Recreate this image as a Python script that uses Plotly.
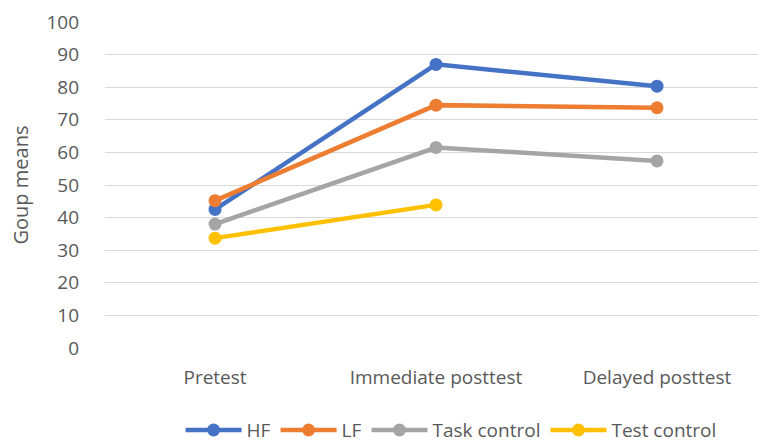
import plotly.graph_objects as go

categories = ["Pretest", "Immediate posttest", "Delayed posttest"]
hf = [42.5, 87.0, 80.3]
lf = [45.2, 74.5, 73.7]
task_control = [38.0, 61.5, 57.4]
test_control = [33.7, 43.9, None]

series = [
    ("HF", hf, "#4472C4"),
    ("LF", lf, "#ED7D31"),
    ("Task control", task_control, "#A5A5A5"),
    ("Test control", test_control, "#FFC000"),
]

FONT = "Open Sans, Roboto, sans-serif"
TXT = "#595959"
FS = 19

fig = go.Figure()
for name, vals, color in series:
    fig.add_trace(go.Scatter(
        x=categories, y=vals, name=name, mode="lines+markers",
        line=dict(color=color, width=4.5),
        marker=dict(color=color, size=13),
        connectgaps=False,
    ))

fig.update_layout(
    width=758, height=446,
    margin=dict(l=105, r=0, t=22, b=98, autoexpand=False),
    paper_bgcolor="white", plot_bgcolor="white",
    font=dict(family=FONT, size=FS, color=TXT),
    showlegend=True,
    legend=dict(orientation="h", x=0.53, xanchor="center", y=-0.252, yanchor="middle",
                font=dict(size=FS, color=TXT), itemwidth=56, tracegroupgap=0),
    xaxis=dict(type="category", range=[-0.498, 2.457], showgrid=False, showline=False,
               zeroline=False, ticks="", ticklabelstandoff=16, automargin=False,
               tickfont=dict(size=FS, color=TXT)),
    yaxis=dict(range=[0, 100], dtick=10, showgrid=True, gridcolor="#D9D9D9", gridwidth=1.3,
               zeroline=False, showline=False, ticks="", ticklabelstandoff=25, automargin=False,
               tickfont=dict(size=FS, color=TXT),
               title=dict(text="Goup means", font=dict(size=FS + 1, color=TXT), standoff=12)),
)

fig.write_html("out.html", config={"displayModeBar": False},
               post_script="document.body.style.margin='0';")
